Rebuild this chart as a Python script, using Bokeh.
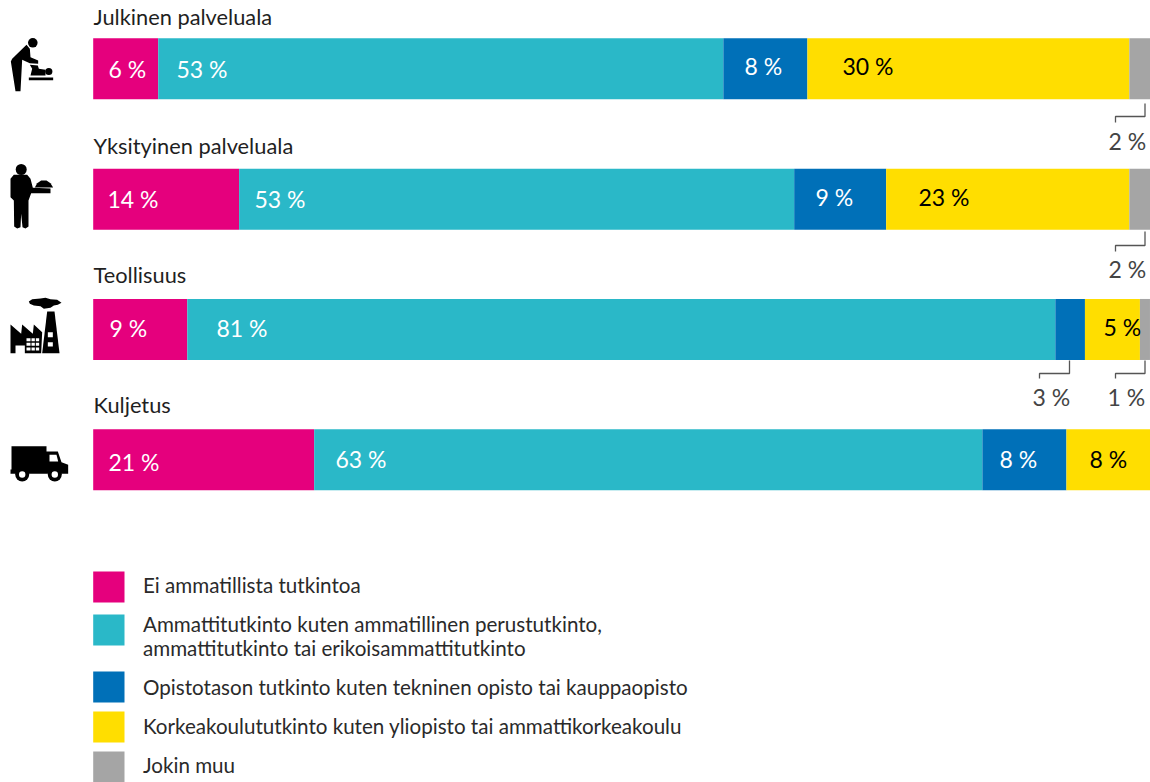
from bokeh.plotting import figure
from bokeh.models import Range1d
from bokeh.core.properties import value
from bokeh.embed import file_html
from bokeh.resources import INLINE

# ---- data ----
categories = ["Julkinen palveluala", "Yksityinen palveluala", "Teollisuus", "Kuljetus"]
ei_tutkintoa = [6.15, 13.8, 8.9, 20.9]
ammattitutkinto = [53.45, 52.5, 82.1, 63.2]
opistotaso = [7.95, 8.7, 2.8, 7.95]
korkeakoulu = [30.45, 23.0, 5.2, 7.95]
muu = [2.0, 2.0, 0.95, 0.0]
series = [ei_tutkintoa, ammattitutkinto, opistotaso, korkeakoulu, muu]
legend_labels = ["Ei ammatillista tutkintoa",
                 "Ammattitutkinto kuten ammatillinen perustutkinto,\nammattitutkinto tai erikoisammattitutkinto",
                 "Opistotason tutkinto kuten tekninen opisto tai kauppaopisto",
                 "Korkeakoulututkinto kuten yliopisto tai ammattikorkeakoulu",
                 "Jokin muu"]
colors = ["#E5007D", "#2AB8C8", "#0070B8", "#FFDE00", "#A5A5A5"]

# value labels: text, colour, left x (page px), y (page px)
lab_text = ["6 %", "53 %", "8 %", "30 %", "14 %", "53 %", "9 %", "23 %", "9 %", "81 %", "5 %",
            "21 %", "63 %", "8 %", "8 %"]
lab_col = ["#fff", "#fff", "#fff", "#000", "#fff", "#fff", "#fff", "#000", "#fff", "#fff", "#000",
           "#fff", "#fff", "#fff", "#000"]
lab_x = [108, 176, 744, 842, 107, 254, 815, 918, 109, 216, 1103, 108, 335, 999, 1089]
lab_y = [68, 68, 65, 65, 198, 198, 196, 196, 327, 327, 326, 461, 458, 458, 458]
out_text = ["2 %", "2 %", "3 %", "1 %"]
out_x = [1108, 1108, 1032, 1107]
out_y = [140, 268, 396, 396]
# leader lines: x top, y top, y elbow, y end, x end
lead = [(1144.5, 103, 116, 122, 1115), (1144.5, 231, 245, 251, 1115),
        (1144.5, 360, 373, 378, 1115), (1069, 360, 373, 378, 1039)]

FONT = "Lato"
W, H = 1150, 782
X0, X1 = 92.7, 1150          # page px of 0 and 100 %
ROW0, PITCH = 68.3, 130.33   # page px of the first row and row pitch
x_range = Range1d(0 - X0 * 100 / (X1 - X0), 100)
y_range = Range1d((782 - ROW0) / PITCH, (0 - ROW0) / PITCH)

p = figure(width=W, height=H, x_range=x_range, y_range=y_range, output_backend="svg",
           toolbar_location=None, min_border=0, outline_line_color=None, x_axis_type=None,
           y_axis_type=None, background_fill_color="white", border_fill_color="white")
p.grid.visible = False
p.extra_x_ranges["px"] = Range1d(0, 1150)
p.extra_y_ranges["px"] = Range1d(782, 0)
PX = dict(x_range_name="px", y_range_name="px")

# ---- stacked bars ----
left = [0.0] * 4
rows = list(range(4))
for vals, col in zip(series, colors):
    right = [a + b for a, b in zip(left, vals)]
    p.hbar(y=rows, left=left, right=right, height=61 / PITCH, fill_color=col, line_color=None)
    left = right

# ---- titles and labels ----
def txt(xs, ys, ts, size, color="#1f1f1f"):
    p.text(x=xs, y=ys, text=ts, text_font=value(FONT), text_font_size=size,
           text_color=color, text_baseline="alphabetic", text_align="left", **PX)

txt([93] * 4, [16, 145, 274, 404], categories, "21.8px")
p.text(x=lab_x, y=lab_y, text=lab_text, text_color=lab_col, text_font=value(FONT),
       text_font_size="23px", text_baseline="alphabetic", **PX)
txt(out_x, out_y, out_text, "23px", color="#444444")

# leaders
for xt, yt, ye, yb, xe in lead:
    p.line([xt, xt, xe, xe], [yt, ye, ye, yb], line_color="#555555", line_width=1.3, **PX)

# ---- legend ----
sw_top = [571, 614, 671, 711, 751]
p.quad(left=[92.7] * 5, right=[124] * 5, top=sw_top, bottom=[t + 31 for t in sw_top],
       fill_color=colors, line_color=None, **PX)
txt([142.5] * 6, [584, 623, 647, 686, 725, 764],
    [legend_labels[0], *legend_labels[1].split("\n"), *legend_labels[2:]], "20.6px", color="#2a2a2a")

# ---- icons (page pixels) ----
def poly(pts, color="black"):
    p.patch([a for a, _ in pts], [b for _, b in pts], fill_color=color, line_color=None, **PX)

def circ(cx, cy, r, color="black"):
    p.ellipse(x=[cx], y=[cy], width=[2 * r], height=[2 * r], fill_color=color, line_color=None, **PX)

def z(pts, ox=0, oy=0):
    return [(ox + a / 3, oy + b / 3) for a, b in pts]

# caregiver
circ(32.3, 42.3, 4.8)
poly(z([(78, 133), (88, 145), (90, 170), (113, 180), (113, 190), (88, 188), (65, 178),
        (60, 272), (45, 272), (31, 183), (35, 175)]))
circ(48.3, 71, 3.6)
poly(z([(88, 193), (112, 195), (115, 205), (135, 208), (135, 225), (90, 225), (95, 205)]))
poly(z([(85, 231), (158, 231), (158, 239), (85, 239)]))
# waiter
circ(20.7, 169, 5.5)
poly(z([(30, 535), (40, 523), (80, 523), (90, 535), (97, 562), (150, 564), (150, 578), (92, 578),
        (84, 600), (84, 678), (75, 684), (66, 680), (62, 640), (60, 680), (50, 684), (41, 678),
        (40, 600), (30, 590)]))
poly(z([(103, 561), (110, 548), (122, 540), (138, 540), (150, 548), (158, 561)]))
# factory
poly(z([(85, 153), (95, 146), (120, 144), (135, 142), (150, 146), (170, 148), (183, 157),
        (172, 163), (160, 165), (150, 172), (130, 175), (120, 167), (100, 165), (88, 160)], 0, 250))
poly(z([(140, 183), (162, 183), (177, 308), (125, 308)], 0, 250))
poly(z([(142, 245), (157, 245), (157, 260), (142, 260)], 0, 250), "white")
poly(z([(142, 275), (157, 275), (157, 288), (142, 288)], 0, 250), "white")
poly(z([(30, 222), (62, 250), (65, 222), (97, 250), (100, 222), (125, 245), (122, 308), (73, 308),
        (73, 285), (45, 285), (45, 308), (30, 308)], 0, 250))
for xa, xb in [(78, 90), (93, 103), (106, 116)]:
    for ya, yb in [(263, 272), (277, 286), (291, 300)]:
        poly(z([(xa, ya), (xb, ya), (xb, yb), (xa, yb)], 0, 250), "white")
# truck
poly(z([(33, 587), (138, 587), (138, 603), (172, 603), (183, 635), (203, 643), (203, 670),
        (30, 670), (30, 657), (33, 657)], 0, 250))
poly(z([(147, 613), (168, 613), (173, 633), (147, 633)], 0, 250), "white")
for cx in (21.7, 54.3):
    circ(cx, 474, 7)
    circ(cx, 474, 3.2, "white")

html = file_html(p, INLINE, title="Koulutus toimialoittain")
open("out.html", "w").write(html)
